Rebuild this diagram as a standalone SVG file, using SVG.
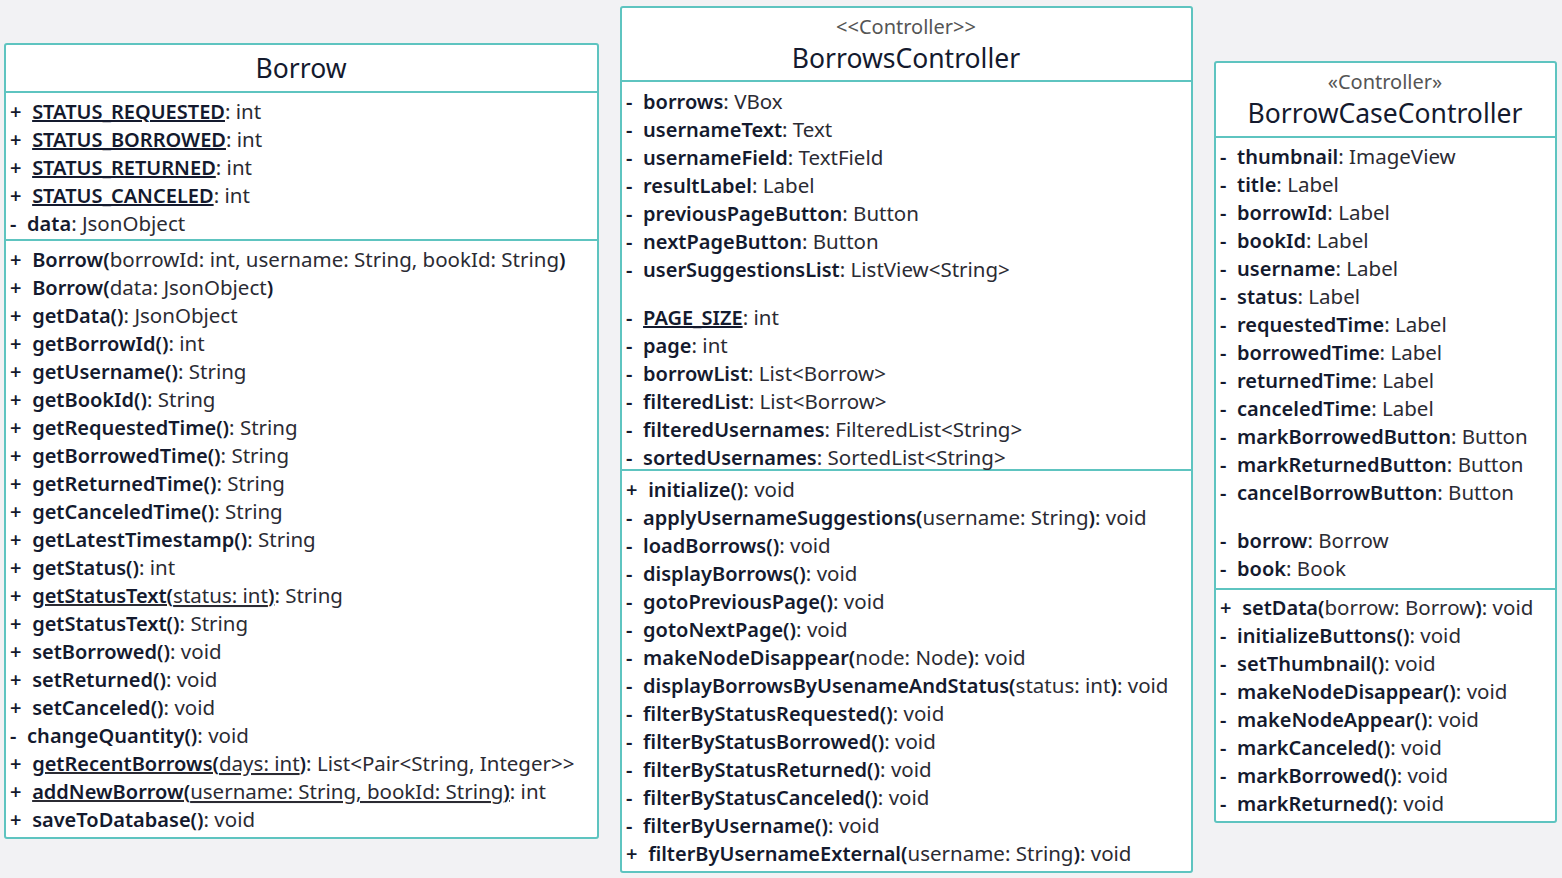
<svg xmlns="http://www.w3.org/2000/svg" width="1562" height="878" viewBox="0 0 1562 878">
<style>
.bg{fill:#f2f2f4}
.box{fill:#ffffff;stroke:#5ec4c0;stroke-width:2}
.sep{stroke:#5ec4c0;stroke-width:2}
text{font-family:"Noto Sans","Open Sans","DejaVu Sans",sans-serif;font-size:20.5px;fill:#2b2b33;white-space:pre}
.s{font-weight:600;font-size:20px;fill:#141a2e}
.b{font-weight:600;font-size:20px;fill:#141a2e}
.u{text-decoration:underline}
.title{font-size:26.5px;text-anchor:middle;fill:#141a2e}
.st{font-size:20px;text-anchor:middle;fill:#555}
</style>
<rect class="bg" x="0" y="0" width="1562" height="878"/>

<g id="Borrow">
<rect class="box" x="5" y="44" width="593" height="794" rx="2"/>
<line class="sep" x1="5" y1="92" x2="598" y2="92"/>
<line class="sep" x1="5" y1="240" x2="598" y2="240"/>
<text class="title" x="301" y="78">Borrow</text>
<text x="10" y="119"><tspan class="s">+</tspan>  <tspan class="b u">STATUS_REQUESTED</tspan>: int</text>
<text x="10" y="147"><tspan class="s">+</tspan>  <tspan class="b u">STATUS_BORROWED</tspan>: int</text>
<text x="10" y="175"><tspan class="s">+</tspan>  <tspan class="b u">STATUS_RETURNED</tspan>: int</text>
<text x="10" y="203"><tspan class="s">+</tspan>  <tspan class="b u">STATUS_CANCELED</tspan>: int</text>
<text x="10" y="231"><tspan class="s">-</tspan>  <tspan class="b">data</tspan>: JsonObject</text>
<text x="10" y="267"><tspan class="s">+</tspan>  <tspan class="b">Borrow(</tspan>borrowId: int, username: String, bookId: String<tspan class="b">)</tspan></text>
<text x="10" y="295"><tspan class="s">+</tspan>  <tspan class="b">Borrow(</tspan>data: JsonObject<tspan class="b">)</tspan></text>
<text x="10" y="323"><tspan class="s">+</tspan>  <tspan class="b">getData()</tspan>: JsonObject</text>
<text x="10" y="351"><tspan class="s">+</tspan>  <tspan class="b">getBorrowId()</tspan>: int</text>
<text x="10" y="379"><tspan class="s">+</tspan>  <tspan class="b">getUsername()</tspan>: String</text>
<text x="10" y="407"><tspan class="s">+</tspan>  <tspan class="b">getBookId()</tspan>: String</text>
<text x="10" y="435"><tspan class="s">+</tspan>  <tspan class="b">getRequestedTime()</tspan>: String</text>
<text x="10" y="463"><tspan class="s">+</tspan>  <tspan class="b">getBorrowedTime()</tspan>: String</text>
<text x="10" y="491"><tspan class="s">+</tspan>  <tspan class="b">getReturnedTime()</tspan>: String</text>
<text x="10" y="519"><tspan class="s">+</tspan>  <tspan class="b">getCanceledTime()</tspan>: String</text>
<text x="10" y="547"><tspan class="s">+</tspan>  <tspan class="b">getLatestTimestamp()</tspan>: String</text>
<text x="10" y="575"><tspan class="s">+</tspan>  <tspan class="b">getStatus()</tspan>: int</text>
<text x="10" y="603"><tspan class="s">+</tspan>  <tspan class="u"><tspan class="b">getStatusText(</tspan>status: int<tspan class="b">)</tspan></tspan>: String</text>
<text x="10" y="631"><tspan class="s">+</tspan>  <tspan class="b">getStatusText()</tspan>: String</text>
<text x="10" y="659"><tspan class="s">+</tspan>  <tspan class="b">setBorrowed()</tspan>: void</text>
<text x="10" y="687"><tspan class="s">+</tspan>  <tspan class="b">setReturned()</tspan>: void</text>
<text x="10" y="715"><tspan class="s">+</tspan>  <tspan class="b">setCanceled()</tspan>: void</text>
<text x="10" y="743"><tspan class="s">-</tspan>  <tspan class="b">changeQuantity()</tspan>: void</text>
<text x="10" y="771"><tspan class="s">+</tspan>  <tspan class="u"><tspan class="b">getRecentBorrows(</tspan>days: int<tspan class="b">)</tspan></tspan>: List&lt;Pair&lt;String, Integer&gt;&gt;</text>
<text x="10" y="799"><tspan class="s">+</tspan>  <tspan class="u"><tspan class="b">addNewBorrow(</tspan>username: String, bookId: String<tspan class="b">)</tspan></tspan>: int</text>
<text x="10" y="827"><tspan class="s">+</tspan>  <tspan class="b">saveToDatabase()</tspan>: void</text>
</g>

<g id="BorrowsController">
<rect class="box" x="621" y="7" width="571" height="865" rx="2"/>
<line class="sep" x1="621" y1="81" x2="1192" y2="81"/>
<line class="sep" x1="621" y1="470" x2="1192" y2="470"/>
<text class="st" x="906" y="34">&lt;&lt;Controller&gt;&gt;</text>
<text class="title" x="906" y="68">BorrowsController</text>
<text x="626" y="109"><tspan class="s">-</tspan>  <tspan class="b">borrows</tspan>: VBox</text>
<text x="626" y="137"><tspan class="s">-</tspan>  <tspan class="b">usernameText</tspan>: Text</text>
<text x="626" y="165"><tspan class="s">-</tspan>  <tspan class="b">usernameField</tspan>: TextField</text>
<text x="626" y="193"><tspan class="s">-</tspan>  <tspan class="b">resultLabel</tspan>: Label</text>
<text x="626" y="221"><tspan class="s">-</tspan>  <tspan class="b">previousPageButton</tspan>: Button</text>
<text x="626" y="249"><tspan class="s">-</tspan>  <tspan class="b">nextPageButton</tspan>: Button</text>
<text x="626" y="277"><tspan class="s">-</tspan>  <tspan class="b">userSuggestionsList</tspan>: ListView&lt;String&gt;</text>
<text x="626" y="325"><tspan class="s">-</tspan>  <tspan class="b u">PAGE_SIZE</tspan>: int</text>
<text x="626" y="353"><tspan class="s">-</tspan>  <tspan class="b">page</tspan>: int</text>
<text x="626" y="381"><tspan class="s">-</tspan>  <tspan class="b">borrowList</tspan>: List&lt;Borrow&gt;</text>
<text x="626" y="409"><tspan class="s">-</tspan>  <tspan class="b">filteredList</tspan>: List&lt;Borrow&gt;</text>
<text x="626" y="437"><tspan class="s">-</tspan>  <tspan class="b">filteredUsernames</tspan>: FilteredList&lt;String&gt;</text>
<text x="626" y="465"><tspan class="s">-</tspan>  <tspan class="b">sortedUsernames</tspan>: SortedList&lt;String&gt;</text>
<text x="626" y="497"><tspan class="s">+</tspan>  <tspan class="b">initialize()</tspan>: void</text>
<text x="626" y="525"><tspan class="s">-</tspan>  <tspan class="b">applyUsernameSuggestions(</tspan>username: String<tspan class="b">)</tspan>: void</text>
<text x="626" y="553"><tspan class="s">-</tspan>  <tspan class="b">loadBorrows()</tspan>: void</text>
<text x="626" y="581"><tspan class="s">-</tspan>  <tspan class="b">displayBorrows()</tspan>: void</text>
<text x="626" y="609"><tspan class="s">-</tspan>  <tspan class="b">gotoPreviousPage()</tspan>: void</text>
<text x="626" y="637"><tspan class="s">-</tspan>  <tspan class="b">gotoNextPage()</tspan>: void</text>
<text x="626" y="665"><tspan class="s">-</tspan>  <tspan class="b">makeNodeDisappear(</tspan>node: Node<tspan class="b">)</tspan>: void</text>
<text x="626" y="693"><tspan class="s">-</tspan>  <tspan class="b">displayBorrowsByUsenameAndStatus(</tspan>status: int<tspan class="b">)</tspan>: void</text>
<text x="626" y="721"><tspan class="s">-</tspan>  <tspan class="b">filterByStatusRequested()</tspan>: void</text>
<text x="626" y="749"><tspan class="s">-</tspan>  <tspan class="b">filterByStatusBorrowed()</tspan>: void</text>
<text x="626" y="777"><tspan class="s">-</tspan>  <tspan class="b">filterByStatusReturned()</tspan>: void</text>
<text x="626" y="805"><tspan class="s">-</tspan>  <tspan class="b">filterByStatusCanceled()</tspan>: void</text>
<text x="626" y="833"><tspan class="s">-</tspan>  <tspan class="b">filterByUsername()</tspan>: void</text>
<text x="626" y="861"><tspan class="s">+</tspan>  <tspan class="b">filterByUsernameExternal(</tspan>username: String<tspan class="b">)</tspan>: void</text>
</g>

<g id="BorrowCaseController">
<rect class="box" x="1215" y="62" width="341" height="760" rx="2"/>
<line class="sep" x1="1215" y1="137" x2="1556" y2="137"/>
<line class="sep" x1="1215" y1="589" x2="1556" y2="589"/>
<text class="st" x="1385" y="89">«Controller»</text>
<text class="title" x="1385" y="123">BorrowCaseController</text>
<text x="1220" y="164"><tspan class="s">-</tspan>  <tspan class="b">thumbnail</tspan>: ImageView</text>
<text x="1220" y="192"><tspan class="s">-</tspan>  <tspan class="b">title</tspan>: Label</text>
<text x="1220" y="220"><tspan class="s">-</tspan>  <tspan class="b">borrowId</tspan>: Label</text>
<text x="1220" y="248"><tspan class="s">-</tspan>  <tspan class="b">bookId</tspan>: Label</text>
<text x="1220" y="276"><tspan class="s">-</tspan>  <tspan class="b">username</tspan>: Label</text>
<text x="1220" y="304"><tspan class="s">-</tspan>  <tspan class="b">status</tspan>: Label</text>
<text x="1220" y="332"><tspan class="s">-</tspan>  <tspan class="b">requestedTime</tspan>: Label</text>
<text x="1220" y="360"><tspan class="s">-</tspan>  <tspan class="b">borrowedTime</tspan>: Label</text>
<text x="1220" y="388"><tspan class="s">-</tspan>  <tspan class="b">returnedTime</tspan>: Label</text>
<text x="1220" y="416"><tspan class="s">-</tspan>  <tspan class="b">canceledTime</tspan>: Label</text>
<text x="1220" y="444"><tspan class="s">-</tspan>  <tspan class="b">markBorrowedButton</tspan>: Button</text>
<text x="1220" y="472"><tspan class="s">-</tspan>  <tspan class="b">markReturnedButton</tspan>: Button</text>
<text x="1220" y="500"><tspan class="s">-</tspan>  <tspan class="b">cancelBorrowButton</tspan>: Button</text>
<text x="1220" y="548"><tspan class="s">-</tspan>  <tspan class="b">borrow</tspan>: Borrow</text>
<text x="1220" y="576"><tspan class="s">-</tspan>  <tspan class="b">book</tspan>: Book</text>
<text x="1220" y="615"><tspan class="s">+</tspan>  <tspan class="b">setData(</tspan>borrow: Borrow<tspan class="b">)</tspan>: void</text>
<text x="1220" y="643"><tspan class="s">-</tspan>  <tspan class="b">initializeButtons()</tspan>: void</text>
<text x="1220" y="671"><tspan class="s">-</tspan>  <tspan class="b">setThumbnail()</tspan>: void</text>
<text x="1220" y="699"><tspan class="s">-</tspan>  <tspan class="b">makeNodeDisappear()</tspan>: void</text>
<text x="1220" y="727"><tspan class="s">-</tspan>  <tspan class="b">makeNodeAppear()</tspan>: void</text>
<text x="1220" y="755"><tspan class="s">-</tspan>  <tspan class="b">markCanceled()</tspan>: void</text>
<text x="1220" y="783"><tspan class="s">-</tspan>  <tspan class="b">markBorrowed()</tspan>: void</text>
<text x="1220" y="811"><tspan class="s">-</tspan>  <tspan class="b">markReturned()</tspan>: void</text>
</g>

<g id="connectors"></g>
</svg>
